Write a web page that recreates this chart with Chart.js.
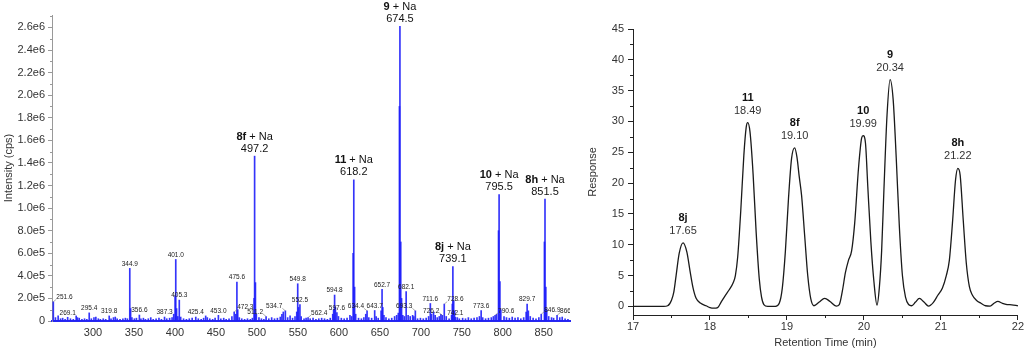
<!DOCTYPE html>
<html>
<head>
<meta charset="utf-8">
<script src="https://cdn.jsdelivr.net/npm/chart.js@4.4.0/dist/chart.umd.min.js"></script>
<style>
  html, body { margin: 0; padding: 0; background: #fff; }
  body { width: 1024px; height: 351px; position: relative; overflow: hidden; }
  #msBox { position: absolute; left: 0; top: 0; width: 575px; height: 351px; }
  #lcBox { position: absolute; left: 575px; top: 0; width: 449px; height: 351px; }
</style>
</head>
<body>
<div id="msBox"><canvas id="msChart" width="575" height="351"></canvas></div>
<div id="lcBox"><canvas id="lcChart" width="449" height="351"></canvas></div>
<script>
// ---- Mass spectrum data ----
// compound peaks (M + Na)
const bigMz   = [497.2, 618.2, 674.5, 739.1, 795.5, 851.5];
const bigInt  = [1460000, 1250000, 2610000, 482000, 1120000, 1080000];
const bigName = ['8f', '11', '9', '8j', '10', '8h'];

// smaller annotated peaks
const smallMz  = [251.6, 269.1, 295.4, 319.8, 344.9, 356.6, 387.3, 401.0, 405.3, 425.4,
                  453.0, 472.3, 475.6, 511.2, 534.7, 549.8, 552.5, 562.4, 594.8, 597.6,
                  634.4, 643.7, 652.7, 682.1, 693.3, 711.6, 726.2, 728.6, 742.1, 773.6,
                  790.6, 829.7, 846.9, 866.2];
const smallInt = [170000, 33000, 72000, 45000, 466000, 53000, 35000, 545000, 185000, 35000,
                  50000, 80000, 345000, 40000, 90000, 330000, 145000, 30000, 230000, 75000,
                  90000, 93000, 280000, 260000, 90000, 155000, 50000, 150000, 32000, 93000,
                  50000, 150000, 60000, 50000];

// unlabelled peaks and baseline noise
const minorMz  = [254.2, 257.5, 260.4, 263.0, 266.0, 272.5, 276.0, 279.5, 281.0, 283.2,
                  286.5, 289.7, 292.5, 298.0, 301.2, 303.5, 306.5, 309.0, 312.5, 315.5,
                  322.0, 325.0, 327.2, 329.5, 333.0, 336.5, 339.5, 342.0, 345.9, 347.5,
                  350.5, 353.0, 358.5, 361.5, 364.0, 367.5, 370.5, 373.5, 377.0, 380.5,
                  383.5, 390.0, 393.5, 396.5, 398.5, 400.2, 402.0, 403.5, 407.0, 410.5,
                  414.0, 417.5, 421.0, 428.5, 432.0, 435.0, 437.5, 439.5, 442.5, 446.0,
                  449.0, 456.0, 459.5, 462.5, 466.0, 469.5, 474.2, 476.6, 478.5, 481.5,
                  485.0, 488.5, 492.0, 494.5, 496.6, 498.2, 499.3, 502.5, 505.5, 508.5,
                  514.5, 518.0, 521.5, 525.0, 528.5, 530.5, 532.2, 537.5, 540.5, 543.5,
                  546.5, 548.6, 550.8, 554.0, 557.5, 560.0, 565.0, 568.5, 572.0, 575.5,
                  579.0, 582.5, 586.0, 589.5, 592.5, 593.6, 595.8, 599.5, 603.0, 606.5,
                  610.0, 613.5, 615.5, 617.4, 619.2, 620.5, 624.0, 627.5, 630.5, 632.8,
                  636.5, 640.0, 645.5, 648.0, 651.5, 653.6, 655.0, 657.5, 661.0, 664.5,
                  668.0, 670.5, 672.5, 673.9, 675.5, 676.5, 678.0, 680.0, 684.5, 687.0,
                  690.0, 691.5, 696.0, 699.5, 703.0, 706.5, 709.5, 713.0, 715.5, 717.5,
                  720.0, 722.5, 724.5, 731.0, 734.5, 737.5, 738.4, 740.1, 741.2, 744.5,
                  747.0, 751.0, 754.5, 758.0, 761.5, 765.0, 768.5, 771.5, 775.5, 779.0,
                  782.5, 786.0, 788.5, 792.5, 794.8, 796.5, 797.6, 801.5, 804.5, 808.0,
                  811.5, 815.0, 818.5, 822.0, 825.5, 828.5, 831.2, 833.5, 837.0, 840.5,
                  844.0, 850.8, 852.5, 853.6, 856.0, 859.5, 862.0, 869.5, 872.5, 876.0,
                  879.5];
const minorInt = [30000, 45000, 20000, 25000, 15000, 20000, 15000, 45000, 30000, 25000,
                  15000, 20000, 15000, 20000, 30000, 35000, 20000, 15000, 20000, 15000,
                  20000, 30000, 35000, 20000, 15000, 20000, 25000, 20000, 110000, 30000,
                  20000, 25000, 20000, 25000, 15000, 20000, 30000, 15000, 20000, 25000,
                  15000, 20000, 25000, 30000, 60000, 220000, 110000, 40000, 35000, 20000,
                  15000, 20000, 25000, 20000, 15000, 25000, 45000, 30000, 20000, 15000,
                  25000, 20000, 25000, 15000, 20000, 40000, 60000, 100000, 30000, 20000,
                  15000, 20000, 15000, 25000, 200000, 340000, 60000, 30000, 20000, 15000,
                  20000, 30000, 20000, 25000, 35000, 60000, 80000, 30000, 45000, 25000,
                  40000, 80000, 120000, 40000, 20000, 25000, 20000, 25000, 15000, 20000,
                  25000, 20000, 15000, 25000, 60000, 100000, 120000, 40000, 25000, 20000,
                  25000, 50000, 40000, 600000, 300000, 60000, 25000, 20000, 30000, 60000,
                  30000, 25000, 40000, 25000, 90000, 120000, 50000, 30000, 20000, 25000,
                  40000, 50000, 70000, 1900000, 700000, 200000, 50000, 40000, 50000, 40000,
                  50000, 40000, 20000, 25000, 20000, 25000, 40000, 60000, 80000, 50000,
                  30000, 40000, 60000, 40000, 20000, 50000, 150000, 180000, 90000, 30000,
                  20000, 25000, 20000, 30000, 20000, 25000, 30000, 40000, 30000, 20000,
                  25000, 30000, 40000, 60000, 800000, 350000, 100000, 40000, 30000, 25000,
                  35000, 25000, 30000, 20000, 30000, 80000, 90000, 40000, 25000, 20000,
                  30000, 700000, 300000, 100000, 40000, 30000, 25000, 30000, 35000, 20000,
                  15000];

const msXTicks = [300, 350, 400, 450, 500, 550, 600, 650, 700, 750, 800, 850];
const msYTicks = [0, 200000, 400000, 600000, 800000, 1000000, 1200000, 1400000,
                  1600000, 1800000, 2000000, 2200000, 2400000, 2600000];
const msYTickLabels = ['0', '2.0e5', '4.0e5', '6.0e5', '8.0e5', '1.0e6', '1.2e6', '1.4e6',
                       '1.6e6', '1.8e6', '2.0e6', '2.2e6', '2.4e6', '2.6e6'];

// ---- Chromatogram data ----
const lcTime = [17.00, 17.20, 17.40, 17.45, 17.50, 17.53, 17.56, 17.60, 17.65, 17.70,
                17.74, 17.78, 17.82, 17.88, 17.95, 18.00, 18.05, 18.10, 18.15, 18.20,
                18.25, 18.30, 18.33, 18.36, 18.40, 18.44, 18.47, 18.49, 18.52, 18.56,
                18.60, 18.64, 18.67, 18.70, 18.75, 18.85, 18.90, 18.94, 18.98, 19.02,
                19.06, 19.10, 19.13, 19.16, 19.19, 19.23, 19.27, 19.31, 19.35, 19.42,
                19.49, 19.56, 19.64, 19.68, 19.72, 19.76, 19.80, 19.84, 19.88, 19.93,
                19.97, 19.99, 20.02, 20.05, 20.09, 20.13, 20.17, 20.20, 20.23, 20.26,
                20.30, 20.34, 20.38, 20.42, 20.46, 20.50, 20.54, 20.58, 20.62, 20.67,
                20.72, 20.78, 20.84, 20.90, 20.96, 21.02, 21.07, 21.11, 21.15, 21.19,
                21.22, 21.25, 21.29, 21.33, 21.37, 21.41, 21.46, 21.52, 21.58, 21.64,
                21.69, 21.74, 21.80, 21.86, 21.92, 22.00];
const lcResp = [0, 0, 0, 0.1, 1.0, 2.3, 5.0, 8.6, 10.3, 8.8,
                5.8, 3.0, 1.3, 0.5, 0.1, -0.2, -0.3, -0.2, 0.8, 1.8,
                2.7, 3.8, 5.0, 8.0, 15.5, 24.5, 29.0, 29.8, 28.3, 21.5,
                12.0, 4.5, 1.5, 0.3, 0, 0, 0.5, 3.0, 9.0, 17.5,
                24.0, 25.7, 24.2, 21.0, 18.0, 11.5, 5.0, 1.2, 0.1, 0.7,
                1.3, 0.8, 0.05, 0.3, 2.5, 5.5, 7.5, 9.0, 13.5, 22.5,
                27.3, 27.7, 26.5, 19.5, 10.5, 4.0, 0.2, 3.0, 9.0, 19.0,
                31.0, 36.8, 33.5, 24.0, 13.0, 5.0, 1.5, 0.3, 0.1, 0.7,
                1.3, 0.7, 0.05, 0.6, 1.8, 3.0, 5.0, 7.5, 13.5, 20.5,
                22.4, 21.3, 14.0, 7.0, 3.2, 1.8, 1.0, 0.5, 0.1, 0.05,
                0.5, 0.8, 0.5, 0.3, 0.25, 0.1];

const lcPeakName = ['8j', '11', '8f', '10', '9', '8h'];
const lcPeakTime = [17.65, 18.49, 19.10, 19.99, 20.34, 21.22];

const lcXTicks = [17, 18, 19, 20, 21, 22];
const lcYTicks = [0, 5, 10, 15, 20, 25, 30, 35, 40, 45];

// ---- Defaults ----
const FONT = "'Liberation Sans', Arial, sans-serif";
Chart.defaults.font.family = FONT;
Chart.defaults.font.size = 11;
Chart.defaults.color = '#333';
Chart.defaults.animation = false;

// Minor tick marks drawn along an axis
const minorTicks = {
    id: 'minorTicks',
    afterDraw(chart, args, opts) {
        const ctx = chart.ctx;
        (opts.marks || []).forEach(m => {
            const s = chart.scales[m.axis];
            ctx.save();
            ctx.strokeStyle = m.color;
            ctx.lineWidth = 1;
            for (let v = m.from; v <= s.max + 1e-9; v += m.step) {
                const p = Math.round(s.getPixelForValue(v)) + 0.5;
                ctx.beginPath();
                if (s.isHorizontal()) { ctx.moveTo(p, s.top); ctx.lineTo(p, s.top + m.len); }
                else { ctx.moveTo(s.right, p); ctx.lineTo(s.right - m.len, p); }
                ctx.stroke();
            }
            ctx.restore();
        });
    }
};

// placement of crowded labels (text beside the peak with a short leader)
const labelSide = {
    '251.6': 'right', '472.3': 'right', '511.2': 'left', '534.7': 'left', '562.4': 'right',
    '634.4': 'left', '693.3': 'left', '726.2': 'left', '728.6': 'right', '790.6': 'right',
    '846.9': 'right', '866.2': 'right'
};

function drawTwoPart(ctx, bold, rest, cx, cy) {
    ctx.font = 'bold 11px ' + FONT;
    const w1 = ctx.measureText(bold).width;
    ctx.font = '11px ' + FONT;
    const w2 = ctx.measureText(rest).width;
    const x0 = cx - (w1 + w2) / 2;
    ctx.textAlign = 'left';
    ctx.font = 'bold 11px ' + FONT;
    ctx.fillText(bold, x0, cy);
    ctx.font = '11px ' + FONT;
    ctx.fillText(rest, x0 + w1, cy);
}

const msLabels = {
    id: 'msLabels',
    afterDatasetsDraw(chart) {
        const {ctx, chartArea, scales: {x, y}} = chart;
        ctx.save();
        ctx.beginPath();
        ctx.rect(0, 0, chartArea.right, chart.height);
        ctx.clip();
        ctx.textBaseline = 'middle';
        ctx.fillStyle = '#222';
        ctx.strokeStyle = '#777';
        ctx.lineWidth = 0.6;
        ctx.font = '6.5px ' + FONT;
        smallMz.forEach((m, i) => {
            const px = x.getPixelForValue(m);
            const top = y.getPixelForValue(smallInt[i]);
            const txt = m.toFixed(1);
            const side = labelSide[txt] || 'center';
            const ty = top - 4.5;
            if (side === 'center') {
                ctx.textAlign = 'center';
                ctx.fillText(txt, px, ty);
            } else if (side === 'left') {
                ctx.textAlign = 'right';
                ctx.fillText(txt, px - 3, ty);
                ctx.beginPath(); ctx.moveTo(px - 3, ty + 2); ctx.lineTo(px, top); ctx.stroke();
            } else {
                ctx.textAlign = 'left';
                ctx.fillText(txt, px + 3, ty);
                ctx.beginPath(); ctx.moveTo(px, top); ctx.lineTo(px + 3, ty + 2); ctx.stroke();
            }
        });
        ctx.fillStyle = '#111';
        bigMz.forEach((m, i) => {
            const px = x.getPixelForValue(m);
            const top = y.getPixelForValue(bigInt[i]);
            drawTwoPart(ctx, bigName[i], ' + Na', px, top - 19.5);
            ctx.textAlign = 'center';
            ctx.font = '11px ' + FONT;
            ctx.fillText(m.toFixed(1), px, top - 7.5);
        });
        ctx.restore();
    }
};

const lcLabels = {
    id: 'lcLabels',
    afterDatasetsDraw(chart) {
        const {ctx, scales: {x, y}} = chart;
        ctx.save();
        ctx.textBaseline = 'middle';
        lcPeakTime.forEach((t, i) => {
            const k = lcTime.indexOf(t);
            const px = x.getPixelForValue(t);
            const top = y.getPixelForValue(lcResp[k]);
            ctx.textAlign = 'center';
            ctx.fillStyle = '#111';
            ctx.font = 'bold 11px ' + FONT;
            ctx.fillText(lcPeakName[i], px, top - 25);
            ctx.fillStyle = '#333';
            ctx.font = '11px ' + FONT;
            ctx.fillText(t.toFixed(2), px, top - 12);
        });
        ctx.restore();
    }
};

// 1. Mass spectrum
const msPoints = smallMz.map((m, i) => ({x: m, y: smallInt[i]}))
    .concat(bigMz.map((m, i) => ({x: m, y: bigInt[i]})))
    .concat(minorMz.map((m, i) => ({x: m, y: minorInt[i]})))
    .sort((a, b) => a.x - b.x);

const msChart = new Chart(document.getElementById('msChart').getContext('2d'), {
    type: 'bar',
    data: {
        datasets: [{
            data: msPoints,
            backgroundColor: 'rgba(30,30,250,0.9)',
            barThickness: 1,
            grouped: false
        }]
    },
    options: {
        responsive: false,
        layout: { padding: { left: 0, right: 5, top: 15, bottom: 0 } },
        plugins: {
            legend: { display: false },
            tooltip: { enabled: false },
            minorTicks: { marks: [{ axis: 'y', from: 100000, step: 200000, len: 2, color: '#999' }] }
        },
        scales: {
            x: {
                type: 'linear', min: 250, max: 882, offset: false,
                afterFit: s => { s.height = 30; },
                afterBuildTicks: s => { s.ticks = msXTicks.map(v => ({ value: v })); },
                border: { display: true, color: 'rgb(40,40,240)', width: 2 },
                grid: { display: false, drawTicks: false, offset: false },
                ticks: { padding: 5, color: '#333', font: { size: 11 } }
            },
            y: {
                min: 0, max: 2710000,
                afterFit: s => { s.width = 52; },
                afterBuildTicks: s => { s.ticks = msYTicks.map(v => ({ value: v })); },
                border: { display: true, color: '#999', width: 1 },
                grid: { display: true, drawOnChartArea: false, drawTicks: true, tickLength: 4, color: '#999' },
                ticks: { padding: 3, color: '#333', font: { size: 11 }, callback: (v, i) => msYTickLabels[i] },
                title: { display: true, text: 'Intensity (cps)', color: '#333', font: { size: 11 }, padding: { top: 2, bottom: 0 } }
            }
        }
    },
    plugins: [minorTicks, msLabels]
});

// 2. Chromatogram
const lcChart = new Chart(document.getElementById('lcChart').getContext('2d'), {
    type: 'line',
    data: {
        datasets: [{
            data: lcTime.map((t, i) => ({ x: t, y: lcResp[i] })),
            borderColor: '#1a1a1a',
            borderWidth: 1.3,
            pointRadius: 0,
            cubicInterpolationMode: 'monotone',
            fill: false
        }]
    },
    options: {
        responsive: false,
        layout: { padding: { left: 0, right: 6, top: 29, bottom: 0 } },
        plugins: {
            legend: { display: false },
            tooltip: { enabled: false },
            minorTicks: { marks: [
                { axis: 'x', from: 17.5, step: 1, len: 3, color: '#222' },
                { axis: 'y', from: 2.5, step: 5, len: 3, color: '#222' }
            ] }
        },
        scales: {
            x: {
                type: 'linear', min: 17, max: 22,
                afterFit: s => { s.height = 36; },
                afterBuildTicks: s => { s.ticks = lcXTicks.map(v => ({ value: v })); },
                border: { display: true, color: '#222', width: 1 },
                grid: { display: true, drawOnChartArea: false, drawTicks: true, tickLength: 5, color: '#222' },
                ticks: { padding: 0, color: '#333', font: { size: 11 } },
                title: { display: true, text: 'Retention Time (min)', color: '#333', font: { size: 11 }, padding: { top: 0, bottom: 1 } }
            },
            y: {
                min: -1.4, max: 45,
                afterFit: s => { s.width = 58; },
                afterBuildTicks: s => { s.ticks = lcYTicks.map(v => ({ value: v })); },
                border: { display: true, color: '#222', width: 1 },
                grid: { display: true, drawOnChartArea: false, drawTicks: true, tickLength: 5, color: '#222' },
                ticks: { padding: 4, color: '#333', font: { size: 11 } },
                title: { display: true, text: 'Response', color: '#333', font: { size: 11 }, padding: { top: 11, bottom: 0 } }
            }
        }
    },
    plugins: [minorTicks, lcLabels]
});
</script>
</body>
</html>
